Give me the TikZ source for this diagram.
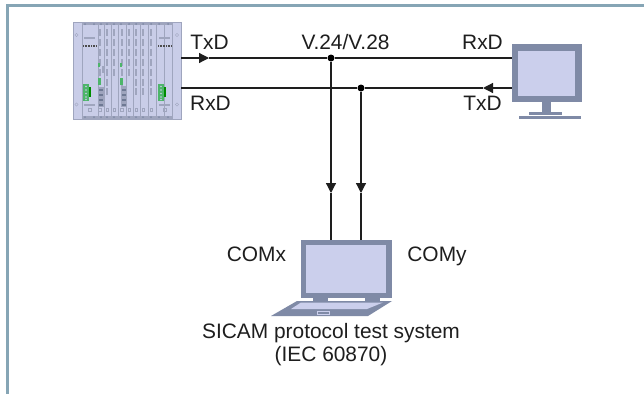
\documentclass[tikz,border=0pt]{standalone}
\usepackage{fontspec}
\setmainfont{Liberation Sans}
\usetikzlibrary{arrows.meta}
\definecolor{frameC}{HTML}{86A5B5}
\definecolor{caseC}{HTML}{7F8AA6}
\definecolor{caseD}{HTML}{6E7994}
\definecolor{screenC}{HTML}{CBCFEC}
\definecolor{rackC}{HTML}{C9CDE8}
\definecolor{rackD}{HTML}{9FA5BE}
\definecolor{greenC}{HTML}{4DB56A}
\definecolor{inkC}{HTML}{1E1E1E}
\tikzset{
  lbl/.style={font=\fontsize{20.9pt}{24pt}\selectfont, inner sep=0pt, anchor=base, text=inkC},
  wire/.style={line width=1.2pt, inkC},
  arr/.style={wire, -{Triangle[length=10pt,width=10pt]}},
  dot/.style={circle, fill=black, inner sep=0pt, minimum size=7pt},
  unit/.style={inner sep=0pt, minimum width=0pt, draw=none},
  slot/.style={fill=rackC, draw=rackD, line width=.5pt},
}
\begin{document}
\begin{tikzpicture}[x=1pt,y=-1pt]
\useasboundingbox (0,0) rectangle (644,394);
\fill[white] (0,0) rectangle (644,394);
% frame
\fill[frameC] (6,4) rectangle (644,6.6);
\fill[frameC] (6,4) rectangle (8.8,394);
% rack
\fill[rackC] (73,22) rectangle (181,119);
\foreach \a/\b in {73/82,82/98,98/104,104/111,111/118,118/126,126/133,133/140,140/148,148/156,156/164,164/172,172/181}{
  \draw[slot] (\a,22) rectangle (\b,119);
}
\fill[rackD] (82,22) rectangle (172,25);
\fill[rackD] (82,116) rectangle (172,119);
\foreach \x in {85,94,101,107,114,121,129,136,143,151,159,168}{
  \fill[caseC] (\x,24) circle (1pt);
  \fill[caseC] (\x,117) circle (1pt);
}
\foreach \x in {99.5,107,114,121.5,129,136,143,151}{
  \foreach \y in {33,43,53,63,73}{\fill[rackD] (\x-1,\y-4) rectangle (\x+1,\y+3);}
}
\foreach \x in {107,121.5,136,143,151}{
  \foreach \y in {83,92}{\fill[rackD] (\x-1,\y-4) rectangle (\x+1,\y+3);}
}
\fill[rackD] (98,87) rectangle (105,107);
\fill[rackD] (121,86) rectangle (127,107);
\foreach \x in {98,121}{\foreach \y in {90,95,100,105}{\fill[caseD] (\x+1,\y-1) rectangle (\x+5,\y+.5);}}
\fill[greenC] (98,63) rectangle (100,67);
\fill[greenC] (98,78) rectangle (100.5,85);
\fill[greenC] (120,63) rectangle (122,67);
\fill[greenC] (120,78) rectangle (122.5,85);
\fill[rackD] (102,66) rectangle (104,73);
\foreach \x in {83,158}{
  \fill[greenC] (\x,84) rectangle (\x+6,101);
  \fill[green!55!black] (\x+6,87) rectangle (\x+8,97);
  \foreach \y in {86.5,90,93.5,97,99.5}{\fill[rackC] (\x+3,\y) circle (.9pt);}
  \fill[rackD] (\x+1,37) rectangle (\x+12,39);
  \fill[rackD] (\x+1,103.5) rectangle (\x+12,105.5);
  \draw[black!70, line width=1.4pt, dash pattern=on 1pt off .6pt] (\x,46) -- (\x+13,46);
  \draw[rackD, line width=.6pt] (\x+5.5,108.5) rectangle (\x+8,111);
}
\foreach \x in {98.5,106,113,120.5,128,135,142,150}{\draw[rackD, line width=.6pt] (\x,108.5) rectangle (\x+2.5,111);}
\foreach \x in {76.5,177}{\draw[rackD] (\x,35) circle (1.6pt); \draw[rackD] (\x,104.5) circle (1.6pt);}
\node[unit, minimum width=108pt, minimum height=97pt] (rack) at (127,70.5) {};
% monitor
\fill[caseC] (542,102) rectangle (551,112);
\fill[caseC] (529,112) rectangle (562,114.5);
\fill[caseC] (519,116) rectangle (581,119);
\node[fill=caseC, inner sep=0pt, minimum width=70pt, minimum height=58pt] (monitor) at (547,73) {};
\fill[screenC] (518,51) rectangle (575,96);
% laptop
\fill[caseC] (313,298) rectangle (328,301);
\fill[caseC] (365,298) rectangle (380,301);
\fill[caseC] (297,301) -- (392,301) -- (368,316) -- (271,316) -- cycle;
\fill[screenC] (301,302.5) -- (383,302.5) -- (367,309) -- (291,309) -- cycle;
\draw[screenC, line width=.6pt] (317,311) rectangle (329,314);
\node[fill=caseC, inner sep=0pt, minimum width=91pt, minimum height=58pt] (laptop) at (346.5,269) {};
\fill[screenC] (306,245) rectangle (386,293);
% junctions and wire ends
\coordinate (txdA) at (209,58);
\coordinate (rxdA) at (483,88);
\node[dot] (j1) at (331,58) {};
\node[dot] (j2) at (361,88) {};
\coordinate (a1) at (331,193);
\coordinate (a2) at (361,193);
\coordinate (l1) at (331,240);
\coordinate (l2) at (361,240);
% wires
\draw[arr] (rack.east |- txdA) -- (txdA);
\draw[wire] (txdA) -- (j1) -- (j1 -| monitor.west);
\draw[arr] (j2 -| monitor.west) -- (rxdA);
\draw[wire] (rxdA) -- (j2) -- (j2 -| rack.east);
\draw[arr] (j1) -- (a1);
\draw[wire] (a1) -- (l1);
\draw[arr] (j2) -- (a2);
\draw[wire] (a2) -- (l2);
% labels
\node[lbl] (t1) at (209.5,49) {TxD};
\node[lbl] (t2) at (345.5,49) {V.24/V.28};
\node[lbl] (t3) at (482.5,49) {RxD};
\node[lbl] (t4) at (210.5,110) {RxD};
\node[lbl] (t5) at (482.5,110) {TxD};
\node[lbl] (t6) at (256.5,261) {COMx};
\node[lbl] (t7) at (437,261) {COMy};
\node[lbl] (t8) at (331,338) {SICAM protocol test system};
\node[lbl] (t9) at (331,361) {(IEC 60870)};
\end{tikzpicture}
\end{document}
